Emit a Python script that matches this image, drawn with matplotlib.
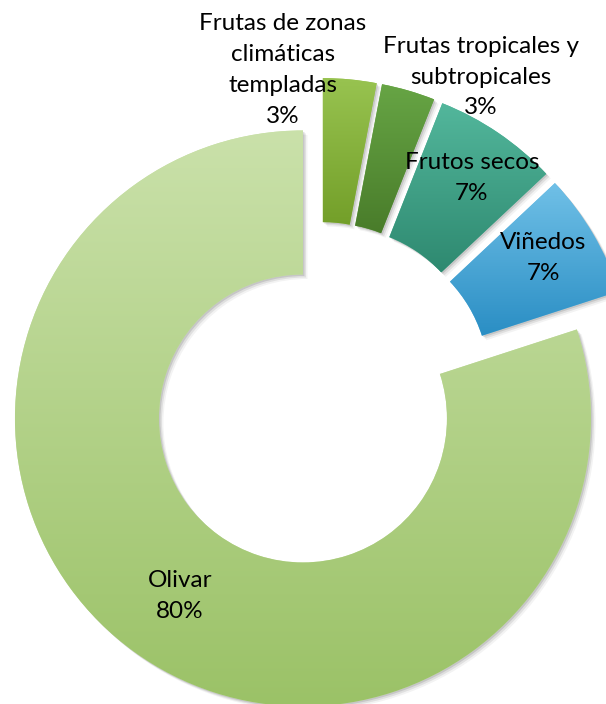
import matplotlib

matplotlib.use("Agg")
import matplotlib.pyplot as plt
import numpy as np
from matplotlib.colors import LinearSegmentedColormap
from matplotlib.patches import Wedge

plt.rcParams["font.family"] = ["Lato", "DejaVu Sans"]

# datos (orden horario desde las 12)
CATEGORIES = ["Frutas de zonas\nclimáticas\ntempladas",
              "Frutas tropicales y\nsubtropicales",
              "Frutos secos", "Viñedos", "Olivar"]
SHARES = [3, 3, 7, 7, 80]
TOP_COLORS = ["#98c350", "#67a545", "#53b79c", "#70c0e7", "#cae1aa"]
BOTTOM_COLORS = ["#739f29", "#497c2a", "#2e8970", "#2a8ec4", "#9bc267"]

# geometría en píxeles (y hacia arriba)
W, H = 606, 704
CENTER = (320, 309)
R_OUT = 288
RING = 144
EXPLODE = 29
LABEL_POS = [(283, 634), (481, 627), (472, 526), (543, 446), (180, 108)]


def gradient_fill(ax, wedge, top, bottom, z):
    cmap = LinearSegmentedColormap.from_list("g", [bottom, top])
    x0, y0, x1, y1 = wedge.get_path().get_extents().extents
    grad = np.linspace(0, 1, 256).reshape(-1, 1)
    im = ax.imshow(grad, extent=[x0, x1, y0, y1], origin="lower", cmap=cmap,
                   aspect="auto", interpolation="bilinear", zorder=z)
    im.set_clip_path(wedge)


def main():
    fig = plt.figure(figsize=(W / 100, H / 100), dpi=100)
    ax = fig.add_axes([0, 0, 1, 1])
    wedges, _ = ax.pie(SHARES, startangle=90, counterclock=False, radius=R_OUT,
                       center=CENTER, explode=[EXPLODE] * len(SHARES),
                       wedgeprops=dict(width=RING, linewidth=0))

    for w, top, bot in zip(wedges, TOP_COLORS, BOTTOM_COLORS):
        # sombra suave abajo a la derecha
        for k, a in zip((1.5, 3, 4.5), (0.18, 0.12, 0.07)):
            sh = Wedge((w.center[0] + k, w.center[1] - k), w.r, w.theta1, w.theta2,
                       width=w.width, facecolor="#555555", edgecolor="none",
                       alpha=a, zorder=1)
            ax.add_patch(sh)
        w.set_zorder(2)
        w.set_facecolor(top)
        gradient_fill(ax, w, top, bot, 3)

    for name, share, (x, y) in zip(CATEGORIES, SHARES, LABEL_POS):
        ax.text(x, y, f"{name}\n{share}%", ha="center", va="center",
                fontsize=17.5, linespacing=1.58, color="black", zorder=5)

    ax.set_xlim(0, W)
    ax.set_ylim(0, H)
    ax.set_aspect("auto")
    ax.axis("off")
    fig.savefig("out.png", dpi=100, facecolor="white")
    plt.close(fig)


if __name__ == "__main__":
    main()
